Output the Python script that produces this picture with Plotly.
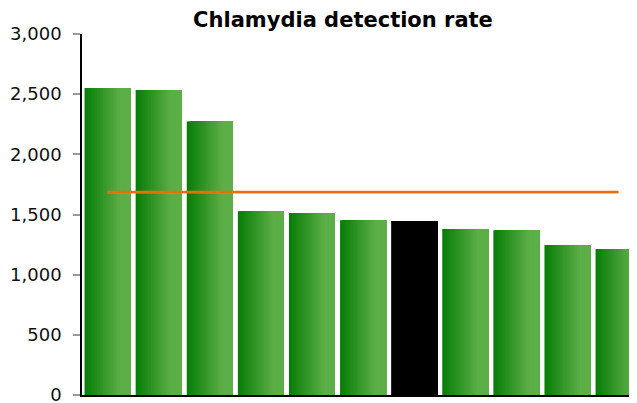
import plotly.graph_objects as go

# Data
categories = list(range(11))
values = [2552, 2535, 2272, 1528, 1512, 1453, 1445, 1379, 1370, 1246, 1213]
highlight_index = 6
average_value = 1686
title_text = "Chlamydia detection rate"
y_tick_values = [0, 500, 1000, 1500, 2000, 2500, 3000]

dark = (8, 126, 8)
light = (92, 174, 70)

def mix(t):
    t = min(1.0, t / 0.75)
    return "rgb(%d,%d,%d)" % tuple(round(dark[k] + (light[k] - dark[k]) * t) for k in range(3))

fig = go.Figure()
N = 30
bw = 0.9
for i in range(N):
    off = -bw / 2 + i * bw / N
    wdt = bw - i * bw / N
    col = mix(i / N)
    colors = ["#000000" if j == highlight_index else col for j in range(len(values))]
    fig.add_trace(go.Bar(
        x=categories, y=values, offset=off, width=wdt,
        marker=dict(color=colors, line=dict(width=0)),
        showlegend=False, hoverinfo="skip"))

fig.add_trace(go.Scatter(
    x=[categories[0], categories[-1]], y=[average_value - 8, average_value - 8],
    mode="lines", line=dict(color="rgba(240,150,80,0.3)", width=2),
    showlegend=False, hoverinfo="skip"))
fig.add_trace(go.Scatter(
    x=[categories[0], categories[-1]], y=[average_value, average_value],
    mode="lines", line=dict(color="#e8700c", width=2.5),
    showlegend=False, hoverinfo="skip"))

# page body has an 8px margin, so the figure is sized/offset to compensate
fig.update_layout(
    width=629, height=395,
    margin=dict(l=74, r=0, t=26, b=8, autoexpand=False),
    barmode="overlay",
    paper_bgcolor="white", plot_bgcolor="white",
    font=dict(family="DejaVu Sans, Verdana, sans-serif", color="#000"),
    title=dict(text="<b>" + title_text + "</b>", x=335 / 629, xanchor="center",
               y=1 - 4 / 395, yanchor="top", font=dict(size=21, color="#000")),
    xaxis=dict(range=[-0.5, -0.5 + 555 / 51.1], showticklabels=False, ticks="",
               showgrid=False, zeroline=False, showline=True, linecolor="#000", linewidth=1.5,
               automargin=False),
    yaxis=dict(range=[0, 3000], tickvals=y_tick_values, tickformat=",",
               ticks="outside", ticklen=7, tickcolor="#999", tickwidth=1.5,
               ticklabelstandoff=8, ticklabeloverflow="allow",
               showgrid=False, zeroline=False, showline=True, linecolor="#000", linewidth=1.5,
               tickfont=dict(size=18, color="#111"), automargin=False),
)

fig.write_html("out.html")
